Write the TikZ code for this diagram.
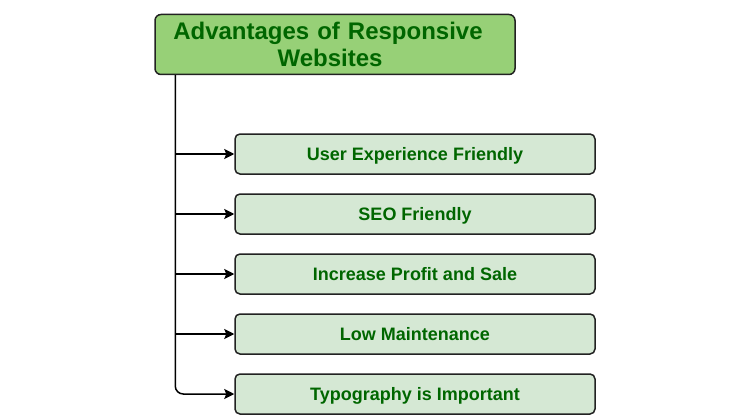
\documentclass[tikz,border=0pt]{standalone}
\usepackage{fontspec}
\setmainfont{Liberation Sans}
\definecolor{HeadGreen}{HTML}{97D077}
\definecolor{ItemGreen}{HTML}{D5E8D4}
\definecolor{TextGreen}{HTML}{006600}
\definecolor{EdgeGray}{HTML}{222222}
\usetikzlibrary{arrows.meta,positioning}

\begin{document}
\begin{tikzpicture}[x=1pt,y=-1pt,
        titlebox/.style={rounded corners=6pt,draw=EdgeGray,line width=1.5pt,
                     fill=HeadGreen,text=TextGreen,
                     minimum width=360pt,minimum height=60pt,
                     font=\fontsize{24}{27}\selectfont\bfseries,
                     text width=354pt,inner sep=2pt,align=center},
        itembox/.style={rounded corners=5pt,draw=EdgeGray,line width=1.5pt,
                     fill=ItemGreen,text=TextGreen,
                     minimum width=360pt,minimum height=40pt,
                     font=\fontsize{18}{20}\selectfont\bfseries,
                     text depth=0pt,inner sep=2pt,align=center},
        link/.style={-{Stealth[length=10pt,width=10pt,inset=2pt]},
                     line width=1.5pt,black}]
        \useasboundingbox (0,0) rectangle (750,420);
        \node[titlebox] (head) at (335,44.5)
              {Advantages of Responsive\rule{14pt}{0pt}\\Websites\rule{10pt}{0pt}};
        \node[itembox] (i1) at (415,154) {User Experience Friendly};
        \node[itembox,below=18.5pt of i1] (i2) {SEO Friendly};
        \node[itembox,below=18.5pt of i2] (i3) {Increase Profit and Sale};
        \node[itembox,below=18.5pt of i3] (i4) {Low Maintenance};
        \node[itembox,below=18.5pt of i4] (i5) {Typography is Important};
        \coordinate (trunk) at ([xshift=21pt]head.south west);
        \draw[link,rounded corners=8pt] (trunk) |- (i5.west);
        \foreach \b in {i1,i2,i3,i4}{
          \draw[link] (trunk |- \b.west) -- (\b.west);
        }
      \end{tikzpicture}
\end{document}
